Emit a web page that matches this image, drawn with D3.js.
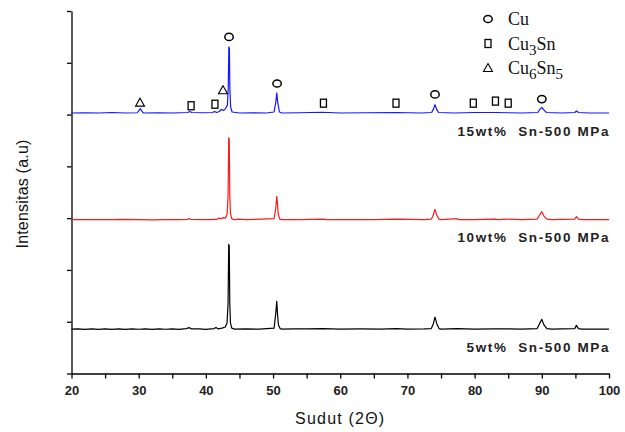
<!DOCTYPE html>
<html>
<head>
<meta charset="utf-8">
<script src="https://cdn.jsdelivr.net/npm/d3@7"></script>
<style>
  body { margin: 0; background: #fff; }
  svg { display: block; }
</style>
</head>
<body>
<svg id="chart" width="625" height="432"></svg>
<script>
// 2theta, relative intensity (a.u.) above each pattern's own baseline
const series15 = [
  [20, 0], [22, 0.005], [24, 0], [26, 0.01], [28, 0], [29.8, 0.005], [30.1, 0.06], [30.25, 0.085], [30.4, 0.05], [30.7, 0],
  [33, 0.005], [35, 0], [37.3, 0.01], [37.6, 0.03], [37.9, 0.01], [39.5, 0.005], [41.0, 0.01], [41.3, 0.03], [41.6, 0.01],
  [42.0, 0.03], [42.3, 0.07], [42.6, 0.05], [42.9, 0.08], [43.2, 0.15], [43.33, 0.48], [43.42, 1.276], [43.5, 1.25],
  [43.57, 0.48], [43.68, 0.12], [43.9, 0.02], [45, 0], [47, 0.005], [49, 0], [50.15, 0.02], [50.4, 0.2], [50.55, 0.387],
  [50.7, 0.2], [50.95, 0.02], [51.3, 0], [54, 0.005], [57.3, 0.015], [60, 0], [64, 0.005], [68.3, 0.01], [72, 0],
  [73.6, 0.01], [73.85, 0.07], [74.1, 0.16], [74.35, 0.07], [74.65, 0.01], [77, 0], [80, 0.01], [83, 0.01], [85, 0.005],
  [87, 0], [89.4, 0.01], [89.75, 0.08], [90.0, 0.11], [90.3, 0.06], [90.7, 0.01], [93, 0], [94.9, 0.01], [95.15, 0.04],
  [95.45, 0.01], [97, 0], [100, 0]
];
const series10 = [
  [20, 0], [23, 0.003], [26, 0], [28, 0.006], [30, 0], [32, -0.004], [34, 0], [36, 0.003], [37.2, 0.004], [37.5, 0.02],
  [37.8, 0.004], [40, 0], [41.6, 0.005], [42.0, 0.03], [42.3, 0.02], [42.6, 0.04], [42.9, 0.03], [43.15, 0.1], [43.3, 0.45],
  [43.4, 1.586], [43.48, 1.55], [43.56, 0.45], [43.66, 0.12], [43.85, 0.02], [44.2, 0], [45, 0.01], [46, 0], [50.15, 0.02],
  [50.4, 0.22], [50.55, 0.45], [50.66, 0.3], [50.78, 0.1], [51.0, 0.01], [51.3, 0], [54, 0.003], [57.4, 0.01], [58, 0],
  [65, 0.003], [68.3, 0.01], [72.5, 0.003], [73.55, 0.01], [73.85, 0.09], [74.1, 0.2], [74.38, 0.08], [74.7, 0.01], [75, 0],
  [77.4, 0.02], [77.7, 0], [80, 0], [83.1, 0.01], [83.4, 0], [85, 0.01], [87, 0], [89.3, 0.01], [89.72, 0.1], [90.0, 0.155],
  [90.32, 0.07], [90.75, 0.01], [91.5, 0], [93, 0.005], [94.9, 0.01], [95.15, 0.058], [95.45, 0.01], [96, 0], [100, 0]
];
const series5 = [
  [20, 0], [21, 0.006], [22, -0.004], [23, 0.006], [24, -0.004], [25, 0.005], [26, -0.004], [27, 0.004], [28, -0.005],
  [29, 0.006], [30, -0.003], [31, 0.004], [32, -0.005], [33, 0.005], [34, -0.003], [35, 0.004], [36, -0.004], [37.1, 0.01],
  [37.5, 0.03], [37.8, 0.005], [39, 0.004], [40, -0.004], [41.2, 0.01], [41.5, 0.03], [41.8, 0.005], [42.4, 0.02],
  [42.9, 0.04], [43.15, 0.12], [43.3, 0.49], [43.4, 1.638], [43.48, 1.6], [43.56, 0.49], [43.66, 0.12], [43.85, 0.02],
  [44.3, 0], [46, 0.004], [48, 0], [50.15, 0.02], [50.4, 0.3], [50.55, 0.536], [50.66, 0.3], [50.8, 0.08], [51.05, 0.01],
  [51.4, 0], [53, 0.004], [55, 0.005], [57.4, 0.01], [60, 0], [63, 0.004], [66, 0], [68.3, 0.01], [70, 0], [72.5, 0.003],
  [73.55, 0.01], [73.85, 0.1], [74.1, 0.232], [74.38, 0.1], [74.7, 0.01], [75, 0], [77.4, 0.01], [80, 0], [83, 0.004],
  [85, 0.005], [87, 0], [89.3, 0.01], [89.72, 0.12], [90.0, 0.188], [90.32, 0.08], [90.75, 0.01], [91.5, 0], [93, 0.003],
  [94.9, 0.01], [95.15, 0.072], [95.45, 0.01], [96, 0], [100, 0]
];

const seriesNames = ['15wt%  Sn-500 MPa', '10wt%  Sn-500 MPa', '5wt%  Sn-500 MPa'];
const seriesOffsets = [5.03, 2.97, 0.857];
const seriesColors = ['#1515ff', '#ff1a1a', '#000000'];

// phase markers above the 15wt% pattern: 2theta, y (a.u.)
const cuMarks = [[43.45, 6.50], [50.6, 5.60], [74.1, 5.39], [90.0, 5.30]];
const cu3snMarks = [[37.8, 5.17], [41.35, 5.20], [57.5, 5.22], [68.3, 5.22], [79.8, 5.22], [83.1, 5.26], [85.0, 5.22]];
const cu6sn5Marks = [[30.2, 5.23], [42.55, 5.47]];

const xTicks = [20, 30, 40, 50, 60, 70, 80, 90, 100];
const xMinorTicks = [25, 35, 45, 55, 65, 75, 85, 95];
const yTicks = [0, 1, 2, 3, 4, 5, 6, 7];

const legendItems = [
  ['circle', ['Cu']],
  ['square', ['Cu', '3', 'Sn']],
  ['triangle', ['Cu', '6', 'Sn', '5']]
];

const svg = d3.select('#chart');
const x = d3.scaleLinear().domain([20, 100]).range([71.5, 609]);
const y = d3.scaleLinear().domain([0, 7]).range([373.5, 11]);
const sans = '"Liberation Sans", Arial, sans-serif';

// axes
const xAxis = d3.axisBottom(x).tickValues(xTicks.concat(xMinorTicks)).tickSize(5).tickSizeOuter(0)
  .tickFormat(d => xTicks.includes(d) ? d : '');
const gx = svg.append('g').attr('transform', `translate(0,${y(0)})`).call(xAxis);
gx.selectAll('path, line').attr('stroke', '#000').attr('stroke-width', 1.3);
gx.selectAll('text').attr('font-family', sans).attr('font-size', 13).attr('font-weight', 'bold')
  .attr('fill', '#222').attr('dy', '1.0em');

const yAxis = d3.axisLeft(y).tickValues(yTicks).tickSize(4.5).tickSizeOuter(0).tickFormat('');
const gy = svg.append('g').attr('transform', `translate(${x(20)},0)`).call(yAxis);
gy.selectAll('path, line').attr('stroke', '#000').attr('stroke-width', 1.3);

svg.append('text').attr('x', x(60)).attr('y', 424).attr('text-anchor', 'middle')
  .attr('font-family', sans).attr('font-size', 16).attr('letter-spacing', 1.2).attr('fill', '#111')
  .text('Sudut (2\u0398)');
svg.append('text').attr('transform', 'translate(28,194) rotate(-90)').attr('text-anchor', 'middle')
  .attr('font-family', sans).attr('font-size', 16).attr('letter-spacing', 0.2).attr('fill', '#111')
  .text('Intensitas (a.u)');

// patterns
const allSeries = [series15, series10, series5];
allSeries.forEach((data, i) => {
  const line = d3.line().x(d => x(d[0])).y(d => y(d[1] + seriesOffsets[i]));
  svg.append('path').datum(data).attr('d', line).attr('fill', 'none')
    .attr('stroke', seriesColors[i]).attr('stroke-width', 1.2).attr('stroke-linejoin', 'round');
  svg.append('text').attr('x', x(100) + 1).attr('y', y(seriesOffsets[i]) + 22.5).attr('text-anchor', 'end')
    .attr('font-family', sans).attr('font-size', 13.5).attr('font-weight', 'bold').attr('letter-spacing', 1.6)
    .attr('fill', '#222').style('white-space', 'pre').text(seriesNames[i]);
});

// marker shapes
function drawSymbol(g, type, cx, cy) {
  if (type === 'circle') {
    g.append('ellipse').attr('cx', cx).attr('cy', cy).attr('rx', 4.2).attr('ry', 3.6)
      .attr('fill', 'none').attr('stroke', '#000').attr('stroke-width', 1.5);
  } else if (type === 'square') {
    g.append('rect').attr('x', cx - 3).attr('y', cy - 4).attr('width', 6).attr('height', 8)
      .attr('fill', 'none').attr('stroke', '#000').attr('stroke-width', 1.3);
  } else {
    g.append('path').attr('d', `M${cx},${cy - 4.5}L${cx + 4.5},${cy + 3.5}L${cx - 4.5},${cy + 3.5}Z`)
      .attr('fill', 'none').attr('stroke', '#000').attr('stroke-width', 1.1);
  }
}

const marks = svg.append('g');
cuMarks.forEach(d => drawSymbol(marks, 'circle', x(d[0]), y(d[1])));
cu3snMarks.forEach(d => drawSymbol(marks, 'square', x(d[0]), y(d[1])));
cu6sn5Marks.forEach(d => drawSymbol(marks, 'triangle', x(d[0]), y(d[1])));

// legend
const legend = svg.append('g');
legendItems.forEach((item, i) => {
  const top = 19 + i * 24.5;
  drawSymbol(legend, item[0], 488, top);
  const t = legend.append('text').attr('x', 508).attr('y', top + 6)
    .attr('font-family', '"Liberation Serif", "Times New Roman", serif').attr('font-size', 18).attr('fill', '#111');
  item[1].forEach((part, k) => {
    const sub = k % 2 === 1;
    t.append('tspan').attr('font-size', sub ? 15 : 18).attr('dy', sub ? 5 : (k > 0 ? -5 : 0)).text(part);
  });
});
</script>
</body>
</html>
